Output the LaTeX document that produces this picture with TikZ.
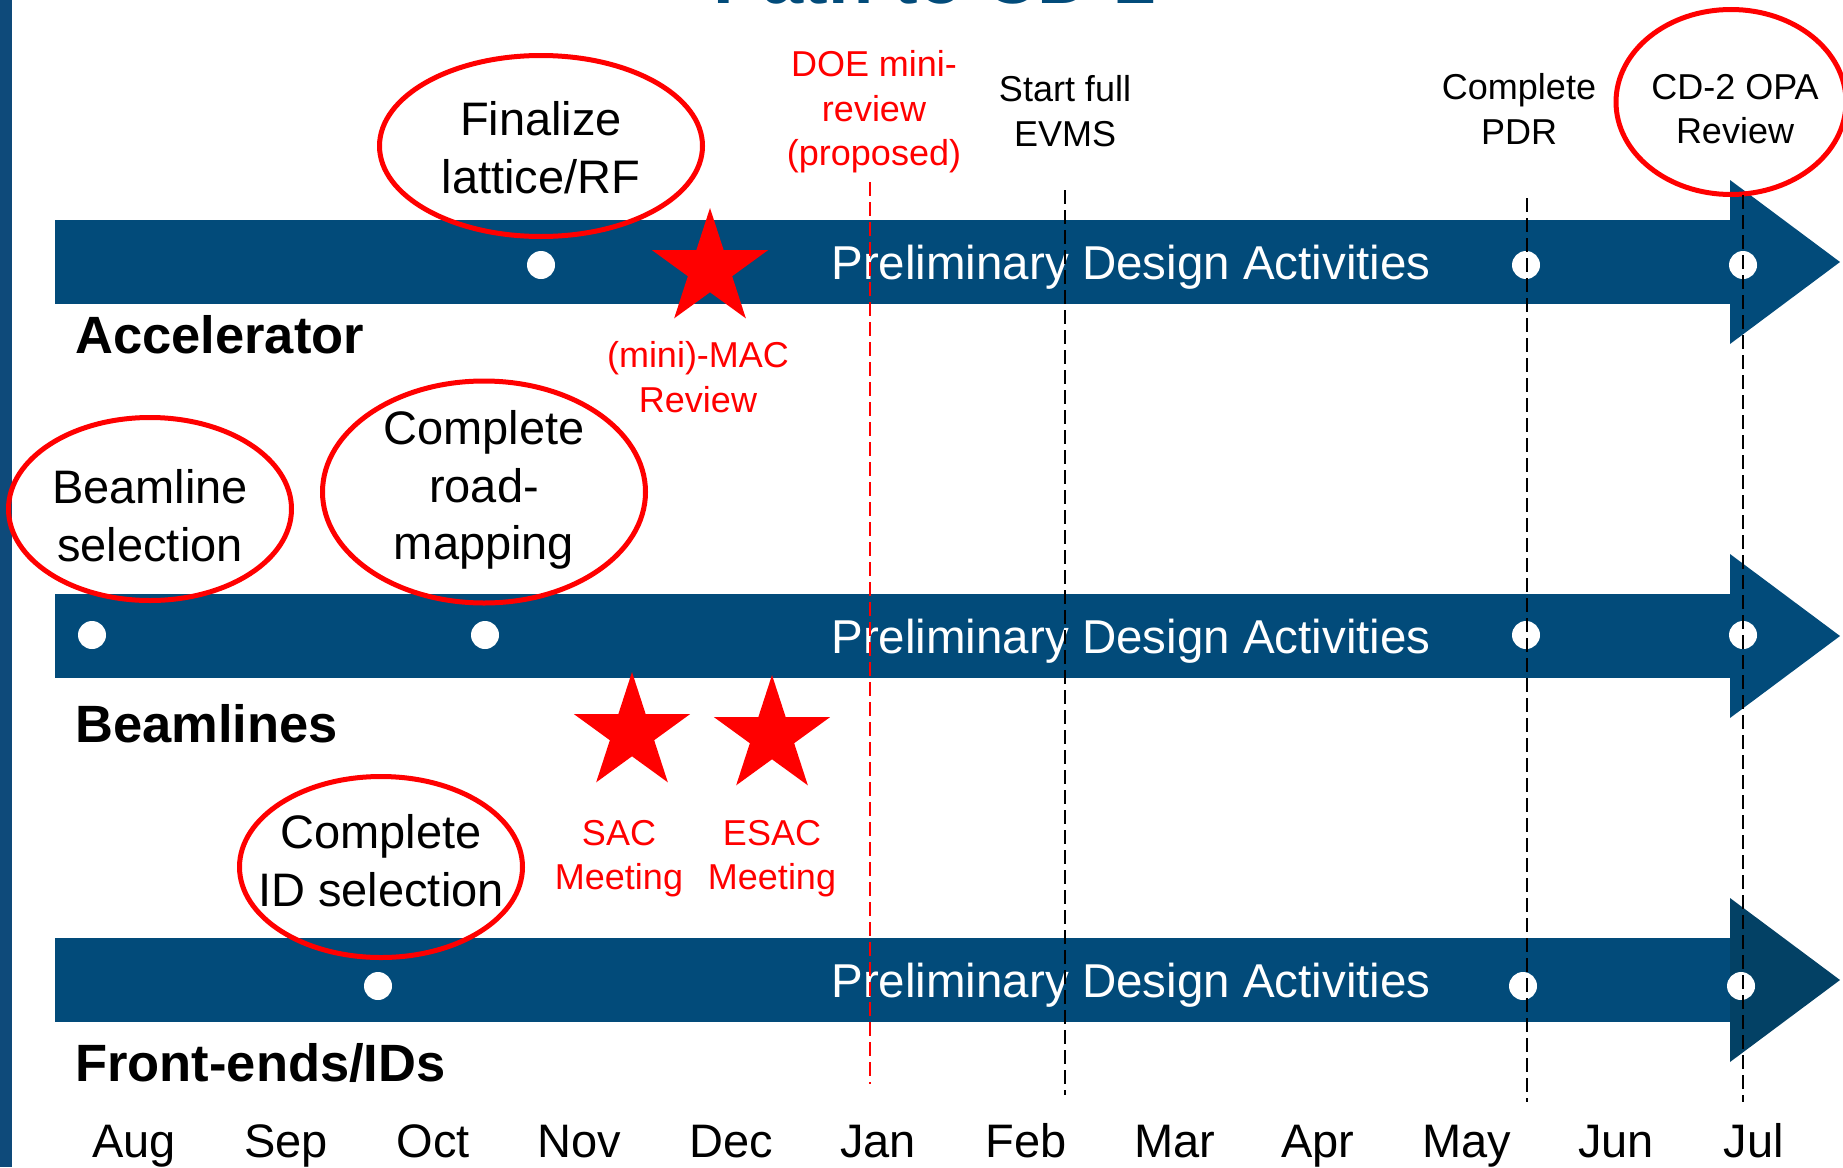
\documentclass[tikz,border=0pt]{standalone}
\usepackage{fontspec}
\setmainfont{Liberation Sans}
\usetikzlibrary{shapes.geometric}
\definecolor{barblue}{RGB}{2,75,122}
\definecolor{headdark}{RGB}{3,65,101}
\definecolor{sideblue}{RGB}{14,74,122}
\definecolor{hlred}{RGB}{255,0,0}
\tikzset{
  bardot/.style={circle, fill=white, minimum size=28, inner sep=0},
  hl/.style={ellipse, draw=hlred, line width=5, inner sep=0},
  mstar/.style={star, star points=5, star point ratio=2.618, fill=hlred, draw=none, inner sep=0, minimum size=122},
  bigtxt/.style={font=\fontsize{47}{57.5}\selectfont, align=center, inner sep=0, anchor=north},
  smalltxt/.style={font=\fontsize{36}{44.5}\selectfont, align=center, inner sep=0, anchor=north},
  bartext/.style={font=\fontsize{47.5}{57}\selectfont, text=white, inner sep=0, anchor=base},
  track/.style={font=\bfseries\fontsize{52.5}{60}\selectfont, inner sep=0, anchor=base west},
  month/.style={font=\fontsize{47}{56}\selectfont, anchor=base, inner sep=0},
  blackdash/.style={draw=black, line width=2.5, dash pattern=on 14 off 6},
  reddash/.style={draw=hlred, line width=2.2, dash pattern=on 14 off 6},
}
\begin{document}
\begin{tikzpicture}[x=1pt, y=-1pt]
\useasboundingbox (0,0) rectangle (1843,1167);
\fill[white] (0,0) rectangle (1843,1167);
% side bar
\fill[sideblue] (0,0) rectangle (12,1167);
% title (cut off at the top, as in the reference)
\node[font=\bfseries\fontsize{74}{80}\selectfont, text=barblue, anchor=base, inner sep=0] (title) at (935,3) {Path to CD-2};
% arrows
\foreach \cy/\nm/\hc in {262/a/barblue, 636/b/barblue, 980/c/headdark} {
  \fill[barblue] (55,\cy-42) rectangle (1730,\cy+42);
  \fill[\hc] (1730,\cy-82) -- (1840,\cy) -- (1730,\cy+82) -- cycle;
  \node[bartext] (pda\nm) at (1131,\cy+17) {Preliminary Design Activities};
}
% dots
\node[bardot] (d1a) at (541,265) {};
\node[bardot] (d1b) at (1526,265) {};
\node[bardot] (d1c) at (1743,265) {};
\node[bardot] (d2a) at (92,635) {};
\node[bardot] (d2b) at (485,635) {};
\node[bardot] (d2c) at (1526,635) {};
\node[bardot] (d2d) at (1743,635) {};
\node[bardot] (d3a) at (378,986) {};
\node[bardot] (d3b) at (1523,986) {};
\node[bardot] (d3c) at (1741,986) {};
% track labels
\node[track] (accel) at (75,353) {Accelerator};
\node[track] (beaml) at (75,742) {Beamlines};
\node[track] (front) at (75,1081) {Front-ends/IDs};
% ellipses
\node[hl, minimum width=323, minimum height=181] (e1) at (541,146) {};
\node[hl, minimum width=230, minimum height=185] (e2) at (1731,102) {};
\node[hl, minimum width=283, minimum height=183] (e3) at (150,509) {};
\node[hl, minimum width=323, minimum height=222] (e4) at (484,492) {};
\node[hl, minimum width=283, minimum height=181] (e5) at (381,867) {};
% ellipse texts
\node[bigtxt] (t1) at (541,101.7) {Finalize\\lattice/RF};
\node[bigtxt] (t9) at (150,469.7) {Beamline\\selection};
\node[bigtxt] (t10) at (484,410.7) {Complete\\road-\\mapping};
\node[bigtxt] (t11) at (381,814.7) {Complete\\ID selection};
% milestone texts
\node[smalltxt] (t2) at (1735,73.7) {CD-2 OPA\\Review};
\node[smalltxt] (t3) at (1519,73.7) {Complete\\PDR};
\node[smalltxt] (t4) at (1065,75.7) {Start full\\EVMS};
\node[smalltxt, text=hlred] (t5) at (874,50.7) {DOE mini-\\review\\(proposed)};
\node[smalltxt, text=hlred] (t6) at (698,341.7) {(mini)-MAC\\Review};
\node[smalltxt, text=hlred] (t7) at (619,819.7) {SAC\\Meeting};
\node[smalltxt, text=hlred] (t8) at (772,819.7) {ESAC\\Meeting};
% stars
\node[mstar] (s1) at (710,269) {};
\node[mstar] (s2) at (632,733) {};
\node[mstar] (s3) at (772,736) {};
% months
\node[month] (m1) at (134,1157) {Aug};
\node[month] (m2) at (286,1157) {Sep};
\node[month] (m3) at (433,1157) {Oct};
\node[month] (m4) at (579,1157) {Nov};
\node[month] (m5) at (731,1157) {Dec};
\node[month] (m6) at (878,1157) {Jan};
\node[month] (m7) at (1026,1157) {Feb};
\node[month] (m8) at (1175,1157) {Mar};
\node[month] (m9) at (1318,1157) {Apr};
\node[month] (m10) at (1467,1157) {May};
\node[month] (m11) at (1616,1157) {Jun};
\node[month] (m12) at (1754,1157) {Jul};
% dashed milestone lines
\coordinate (rtop) at (870,182);
\coordinate (rbot) at (870,1084);
\coordinate (ftop) at (1065,190);
\coordinate (fbot) at (1065,1095);
\coordinate (ptop) at (1527,198);
\coordinate (pbot) at (1527,1102);
\coordinate (jtop) at (1743,195);
\coordinate (jbot) at (1743,1102);
\draw[reddash] (rtop) -- (rbot);
\draw[blackdash] (ftop) -- (fbot);
\draw[blackdash] (ptop) -- (pbot);
\draw[blackdash] (jtop) -- (jbot);
\end{tikzpicture}
\end{document}
